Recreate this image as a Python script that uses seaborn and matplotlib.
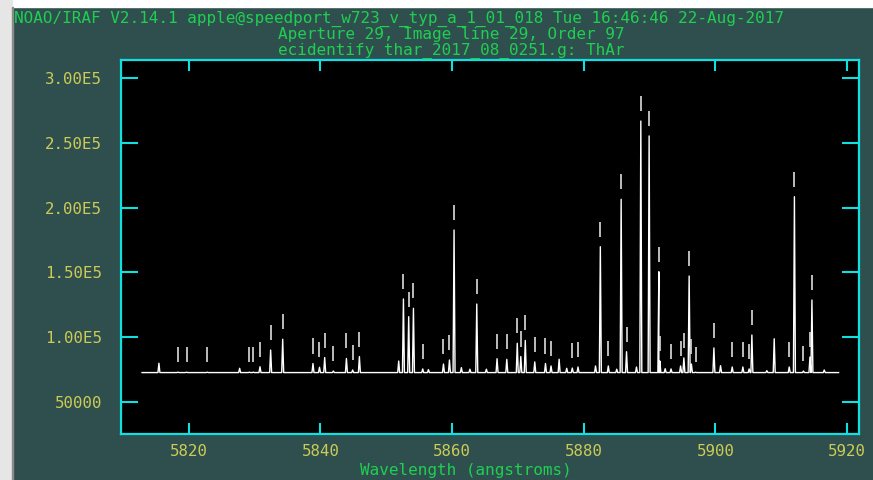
"""IRAF ecidentify plot of a ThAr order (aperture 29, order 97), redrawn."""

import matplotlib

matplotlib.use("Agg")
import matplotlib.pyplot as plt
import numpy as np
import pandas as pd
import seaborn as sns
from matplotlib.patches import Rectangle

# Identified ThAr features: wavelength (angstroms) and flux at the feature
LINE_WAVE = [
	5818.34, 5819.67, 5822.81, 5829.19, 5829.80, 5830.81, 5832.43, 5834.26,
	5838.86, 5839.85, 5840.64, 5841.96, 5843.94, 5844.89, 5845.91,
	5852.60, 5853.40, 5854.12, 5855.53, 5858.68, 5859.59, 5860.29, 5863.74,
	5866.82, 5868.30, 5869.89, 5870.43, 5871.11, 5872.55, 5874.18, 5875.02,
	5878.25, 5879.12, 5882.51, 5883.72, 5885.67, 5886.49, 5888.66, 5889.92,
	5891.40, 5891.55, 5893.25, 5894.70, 5895.20, 5896.00, 5896.34, 5896.98,
	5899.76, 5902.54, 5904.16, 5905.11, 5905.53, 5911.20, 5911.99, 5913.36,
	5914.35, 5914.65,
]
LINE_FLUX = [
	73000, 73000, 73000, 73000, 73000, 77200, 90100, 98400,
	79700, 76800, 84300, 73900, 83600, 74700, 85000,
	129500, 115800, 122300, 75500, 79300, 82400, 182700, 125600,
	83400, 82900, 95300, 85100, 97500, 80900, 79700, 77800,
	76200, 77000, 169800, 77800, 206400, 88800, 266800, 255300,
	150500, 81600, 75500, 77800, 84000, 147200, 79300, 73000,
	91700, 77000, 77000, 75500, 101700, 77000, 208400, 73900,
	84700, 128700,
]

# Other visible peaks that carry no identification mark
EXTRA_WAVE = [
	5815.46, 5827.72, 5851.88, 5856.40, 5861.40, 5862.70, 5865.20, 5876.25,
	5877.40, 5881.78, 5885.00, 5888.00, 5892.36, 5900.77, 5907.80, 5908.92,
	5916.52,
]
EXTRA_FLUX = [
	79900, 76000, 81600, 75000, 76500, 75300, 75300, 83000,
	76000, 77800, 75300, 77000, 75700, 78000, 74200, 98800,
	74700,
]

CONTINUUM = 72700
SPEC_START, SPEC_END = 5812.9, 5918.7

X_TICKS = [5820, 5840, 5860, 5880, 5900, 5920]
Y_TICKS = [50000, 100000, 150000, 200000, 250000, 300000]
Y_TICK_LABELS = ["50000", "1.00E5", "1.50E5", "2.00E5", "2.50E5", "3.00E5"]

TITLE_LINES = [
	"NOAO/IRAF V2.14.1 apple@speedport_w723_v_typ_a_1_01_018 Tue 16:46:46 22-Aug-2017",
	"Aperture 29, Image line 29, Order 97",
	"ecidentify thar_2017_08_0251.g: ThAr",
]
X_LABEL = "Wavelength (angstroms)"

# colours of the IRAF graphics terminal
BG = "#2f4f4f"
CYAN = "#10e0e0"
YELLOW = "#cccc55"
GREEN = "#1ecf50"
MONO = "DejaVu Sans Mono"

W, H = 873, 480
HALF_WIDTH = 0.15  # angstroms, half width of a drawn peak
MARK_GAP, MARK_LEN = 7700, 11600  # flux units, offset and length of id marks

# spectrum as continuum with a narrow peak at each feature
waves = LINE_WAVE + EXTRA_WAVE
fluxes = LINE_FLUX + EXTRA_FLUX
xs = [SPEC_START, SPEC_END]
ys = [CONTINUUM, CONTINUUM]
for w, f in zip(waves, fluxes):
	xs += [w - HALF_WIDTH, w, w + HALF_WIDTH]
	ys += [CONTINUUM, f, CONTINUUM]
spec = pd.DataFrame({"wave": xs, "flux": ys}).sort_values("wave", kind="stable")

plt.rcParams["font.family"] = MONO

# window background, with the strip of screen left and above it
fig = plt.figure(figsize=(W / 100, H / 100), dpi=100, facecolor=BG)
fig.patches.append(
	Rectangle((0, 1 - 7 / H), 1, 7 / H, transform=fig.transFigure, color="white", zorder=-5),
)
fig.patches.append(
	Rectangle((0, 0), 12 / W, 1, transform=fig.transFigure, color="#e6e6e6", zorder=-5),
)
fig.patches.append(
	Rectangle((12 / W, 0), 1.2 / W, 1 - 7 / H, transform=fig.transFigure, color="#8a8a8a", zorder=-5),
)

ax = fig.add_axes([121 / W, 1 - 434 / H, (859 - 121) / W, (434 - 60) / H])
ax.set_facecolor("black")

sns.lineplot(data=spec, x="wave", y="flux", color="white", lw=1, estimator=None, sort=False, ax=ax)
line_flux = np.array(LINE_FLUX)
ax.vlines(LINE_WAVE, line_flux + MARK_GAP, line_flux + MARK_GAP + MARK_LEN, color="#dddddd", lw=1.2)

ax.set_xlim(5809.7, 5921.8)
ax.set_ylim(25300, 313900)
ax.set_xticks(X_TICKS)
ax.set_yticks(Y_TICKS)
ax.set_yticklabels(Y_TICK_LABELS)
ax.set_xlabel("")
ax.set_ylabel("")

ax.tick_params(
	axis="both",
	direction="in",
	top=True,
	right=True,
	color=CYAN,
	labelcolor=YELLOW,
	labelsize=11.3,
	width=1.5,
)
ax.tick_params(axis="x", length=8, pad=7.5)
ax.tick_params(axis="y", length=12.5, pad=13.5)
for spine in ax.spines.values():
	spine.set_color(CYAN)
	spine.set_linewidth(1.6)

# title block and axis label, placed as the graphics terminal drew them
fig.text(14 / W, 1 - 22.7 / H, TITLE_LINES[0], ha="left", va="baseline", color=GREEN, size=11.5)
fig.text(451 / W, 1 - 39.3 / H, TITLE_LINES[1], ha="center", va="baseline", color=GREEN, size=11.5)
fig.text(451 / W, 1 - 54.3 / H, TITLE_LINES[2], ha="center", va="baseline", color=GREEN, size=11.5)
fig.text(466 / W, 1 - 475.5 / H, X_LABEL, ha="center", va="baseline", color=GREEN, size=11.5)

fig.savefig("out.png", dpi=100, facecolor=fig.get_facecolor())
